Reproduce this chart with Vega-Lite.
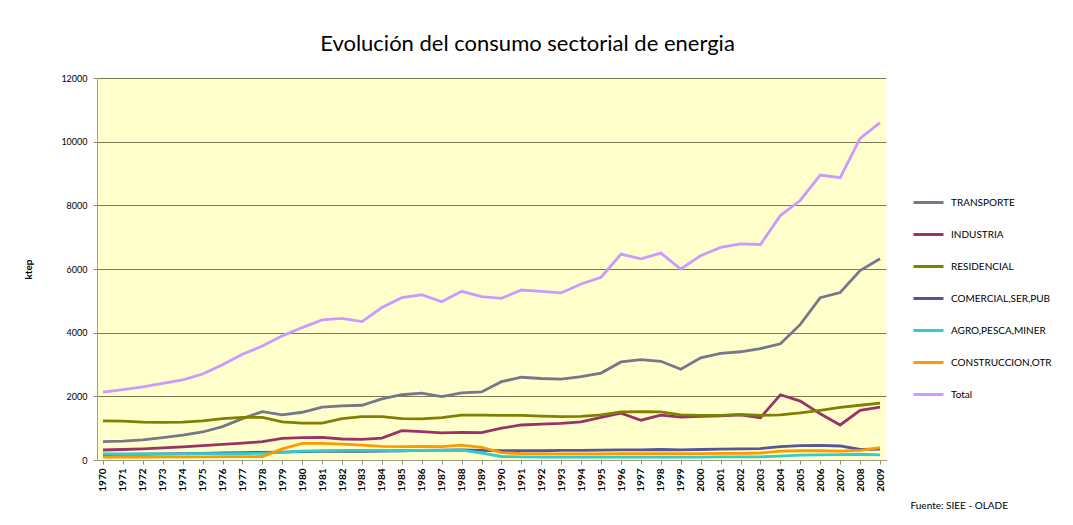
{
  "$schema": "https://vega.github.io/schema/vega-lite/v6.json",
  "autosize": "none",
  "width": 789,
  "height": 382,
  "padding": {"left": 97, "top": 78, "right": 187, "bottom": 65},
  "background": "white",
  "config": {
    "view": {"fill": "#ffffcc", "stroke": null},
    "font": "Lato"
  },
  "title": {
    "text": "Evolución del consumo sectorial de energia",
    "fontSize": 22,
    "font": "Lato",
    "fontWeight": "normal",
    "color": "#000000",
    "anchor": "middle",
    "dx": 36,
    "offset": 18
  },
  "datasets": {
    "d": [
      {"y":1970,"s":"TRANSPORTE","v":575},{"y":1971,"s":"TRANSPORTE","v":590},{"y":1972,"s":"TRANSPORTE","v":630},{"y":1973,"s":"TRANSPORTE","v":700},{"y":1974,"s":"TRANSPORTE","v":780},{"y":1975,"s":"TRANSPORTE","v":880},{"y":1976,"s":"TRANSPORTE","v":1050},{"y":1977,"s":"TRANSPORTE","v":1300},{"y":1978,"s":"TRANSPORTE","v":1520},{"y":1979,"s":"TRANSPORTE","v":1420},{"y":1980,"s":"TRANSPORTE","v":1500},{"y":1981,"s":"TRANSPORTE","v":1660},{"y":1982,"s":"TRANSPORTE","v":1700},{"y":1983,"s":"TRANSPORTE","v":1720},{"y":1984,"s":"TRANSPORTE","v":1920},{"y":1985,"s":"TRANSPORTE","v":2050},{"y":1986,"s":"TRANSPORTE","v":2100},{"y":1987,"s":"TRANSPORTE","v":1990},{"y":1988,"s":"TRANSPORTE","v":2110},{"y":1989,"s":"TRANSPORTE","v":2140},{"y":1990,"s":"TRANSPORTE","v":2460},{"y":1991,"s":"TRANSPORTE","v":2600},{"y":1992,"s":"TRANSPORTE","v":2560},{"y":1993,"s":"TRANSPORTE","v":2540},{"y":1994,"s":"TRANSPORTE","v":2620},{"y":1995,"s":"TRANSPORTE","v":2730},{"y":1996,"s":"TRANSPORTE","v":3080},{"y":1997,"s":"TRANSPORTE","v":3150},{"y":1998,"s":"TRANSPORTE","v":3100},{"y":1999,"s":"TRANSPORTE","v":2850},{"y":2000,"s":"TRANSPORTE","v":3210},{"y":2001,"s":"TRANSPORTE","v":3350},{"y":2002,"s":"TRANSPORTE","v":3400},{"y":2003,"s":"TRANSPORTE","v":3500},{"y":2004,"s":"TRANSPORTE","v":3650},{"y":2005,"s":"TRANSPORTE","v":4260},{"y":2006,"s":"TRANSPORTE","v":5100},{"y":2007,"s":"TRANSPORTE","v":5260},{"y":2008,"s":"TRANSPORTE","v":5950},{"y":2009,"s":"TRANSPORTE","v":6320},
      {"y":1970,"s":"INDUSTRIA","v":314},{"y":1971,"s":"INDUSTRIA","v":330},{"y":1972,"s":"INDUSTRIA","v":350},{"y":1973,"s":"INDUSTRIA","v":380},{"y":1974,"s":"INDUSTRIA","v":410},{"y":1975,"s":"INDUSTRIA","v":450},{"y":1976,"s":"INDUSTRIA","v":490},{"y":1977,"s":"INDUSTRIA","v":530},{"y":1978,"s":"INDUSTRIA","v":575},{"y":1979,"s":"INDUSTRIA","v":680},{"y":1980,"s":"INDUSTRIA","v":700},{"y":1981,"s":"INDUSTRIA","v":710},{"y":1982,"s":"INDUSTRIA","v":660},{"y":1983,"s":"INDUSTRIA","v":650},{"y":1984,"s":"INDUSTRIA","v":690},{"y":1985,"s":"INDUSTRIA","v":920},{"y":1986,"s":"INDUSTRIA","v":890},{"y":1987,"s":"INDUSTRIA","v":850},{"y":1988,"s":"INDUSTRIA","v":870},{"y":1989,"s":"INDUSTRIA","v":860},{"y":1990,"s":"INDUSTRIA","v":1000},{"y":1991,"s":"INDUSTRIA","v":1100},{"y":1992,"s":"INDUSTRIA","v":1130},{"y":1993,"s":"INDUSTRIA","v":1150},{"y":1994,"s":"INDUSTRIA","v":1200},{"y":1995,"s":"INDUSTRIA","v":1340},{"y":1996,"s":"INDUSTRIA","v":1470},{"y":1997,"s":"INDUSTRIA","v":1250},{"y":1998,"s":"INDUSTRIA","v":1410},{"y":1999,"s":"INDUSTRIA","v":1350},{"y":2000,"s":"INDUSTRIA","v":1370},{"y":2001,"s":"INDUSTRIA","v":1390},{"y":2002,"s":"INDUSTRIA","v":1420},{"y":2003,"s":"INDUSTRIA","v":1330},{"y":2004,"s":"INDUSTRIA","v":2050},{"y":2005,"s":"INDUSTRIA","v":1850},{"y":2006,"s":"INDUSTRIA","v":1450},{"y":2007,"s":"INDUSTRIA","v":1100},{"y":2008,"s":"INDUSTRIA","v":1560},{"y":2009,"s":"INDUSTRIA","v":1660},
      {"y":1970,"s":"RESIDENCIAL","v":1230},{"y":1971,"s":"RESIDENCIAL","v":1220},{"y":1972,"s":"RESIDENCIAL","v":1190},{"y":1973,"s":"RESIDENCIAL","v":1180},{"y":1974,"s":"RESIDENCIAL","v":1190},{"y":1975,"s":"RESIDENCIAL","v":1230},{"y":1976,"s":"RESIDENCIAL","v":1300},{"y":1977,"s":"RESIDENCIAL","v":1340},{"y":1978,"s":"RESIDENCIAL","v":1340},{"y":1979,"s":"RESIDENCIAL","v":1200},{"y":1980,"s":"RESIDENCIAL","v":1160},{"y":1981,"s":"RESIDENCIAL","v":1160},{"y":1982,"s":"RESIDENCIAL","v":1300},{"y":1983,"s":"RESIDENCIAL","v":1360},{"y":1984,"s":"RESIDENCIAL","v":1360},{"y":1985,"s":"RESIDENCIAL","v":1300},{"y":1986,"s":"RESIDENCIAL","v":1290},{"y":1987,"s":"RESIDENCIAL","v":1330},{"y":1988,"s":"RESIDENCIAL","v":1410},{"y":1989,"s":"RESIDENCIAL","v":1410},{"y":1990,"s":"RESIDENCIAL","v":1400},{"y":1991,"s":"RESIDENCIAL","v":1400},{"y":1992,"s":"RESIDENCIAL","v":1380},{"y":1993,"s":"RESIDENCIAL","v":1360},{"y":1994,"s":"RESIDENCIAL","v":1370},{"y":1995,"s":"RESIDENCIAL","v":1420},{"y":1996,"s":"RESIDENCIAL","v":1510},{"y":1997,"s":"RESIDENCIAL","v":1520},{"y":1998,"s":"RESIDENCIAL","v":1510},{"y":1999,"s":"RESIDENCIAL","v":1420},{"y":2000,"s":"RESIDENCIAL","v":1400},{"y":2001,"s":"RESIDENCIAL","v":1400},{"y":2002,"s":"RESIDENCIAL","v":1430},{"y":2003,"s":"RESIDENCIAL","v":1400},{"y":2004,"s":"RESIDENCIAL","v":1420},{"y":2005,"s":"RESIDENCIAL","v":1480},{"y":2006,"s":"RESIDENCIAL","v":1560},{"y":2007,"s":"RESIDENCIAL","v":1650},{"y":2008,"s":"RESIDENCIAL","v":1720},{"y":2009,"s":"RESIDENCIAL","v":1790},
      {"y":1970,"s":"COMERCIAL,SER,PUB","v":170},{"y":1971,"s":"COMERCIAL,SER,PUB","v":175},{"y":1972,"s":"COMERCIAL,SER,PUB","v":180},{"y":1973,"s":"COMERCIAL,SER,PUB","v":190},{"y":1974,"s":"COMERCIAL,SER,PUB","v":200},{"y":1975,"s":"COMERCIAL,SER,PUB","v":210},{"y":1976,"s":"COMERCIAL,SER,PUB","v":220},{"y":1977,"s":"COMERCIAL,SER,PUB","v":230},{"y":1978,"s":"COMERCIAL,SER,PUB","v":240},{"y":1979,"s":"COMERCIAL,SER,PUB","v":250},{"y":1980,"s":"COMERCIAL,SER,PUB","v":260},{"y":1981,"s":"COMERCIAL,SER,PUB","v":270},{"y":1982,"s":"COMERCIAL,SER,PUB","v":270},{"y":1983,"s":"COMERCIAL,SER,PUB","v":270},{"y":1984,"s":"COMERCIAL,SER,PUB","v":280},{"y":1985,"s":"COMERCIAL,SER,PUB","v":290},{"y":1986,"s":"COMERCIAL,SER,PUB","v":300},{"y":1987,"s":"COMERCIAL,SER,PUB","v":310},{"y":1988,"s":"COMERCIAL,SER,PUB","v":320},{"y":1989,"s":"COMERCIAL,SER,PUB","v":300},{"y":1990,"s":"COMERCIAL,SER,PUB","v":290},{"y":1991,"s":"COMERCIAL,SER,PUB","v":290},{"y":1992,"s":"COMERCIAL,SER,PUB","v":290},{"y":1993,"s":"COMERCIAL,SER,PUB","v":300},{"y":1994,"s":"COMERCIAL,SER,PUB","v":300},{"y":1995,"s":"COMERCIAL,SER,PUB","v":310},{"y":1996,"s":"COMERCIAL,SER,PUB","v":320},{"y":1997,"s":"COMERCIAL,SER,PUB","v":320},{"y":1998,"s":"COMERCIAL,SER,PUB","v":330},{"y":1999,"s":"COMERCIAL,SER,PUB","v":320},{"y":2000,"s":"COMERCIAL,SER,PUB","v":330},{"y":2001,"s":"COMERCIAL,SER,PUB","v":340},{"y":2002,"s":"COMERCIAL,SER,PUB","v":350},{"y":2003,"s":"COMERCIAL,SER,PUB","v":360},{"y":2004,"s":"COMERCIAL,SER,PUB","v":420},{"y":2005,"s":"COMERCIAL,SER,PUB","v":450},{"y":2006,"s":"COMERCIAL,SER,PUB","v":460},{"y":2007,"s":"COMERCIAL,SER,PUB","v":440},{"y":2008,"s":"COMERCIAL,SER,PUB","v":330},{"y":2009,"s":"COMERCIAL,SER,PUB","v":340},
      {"y":1970,"s":"AGRO,PESCA,MINER","v":190},{"y":1971,"s":"AGRO,PESCA,MINER","v":190},{"y":1972,"s":"AGRO,PESCA,MINER","v":190},{"y":1973,"s":"AGRO,PESCA,MINER","v":195},{"y":1974,"s":"AGRO,PESCA,MINER","v":195},{"y":1975,"s":"AGRO,PESCA,MINER","v":200},{"y":1976,"s":"AGRO,PESCA,MINER","v":200},{"y":1977,"s":"AGRO,PESCA,MINER","v":200},{"y":1978,"s":"AGRO,PESCA,MINER","v":210},{"y":1979,"s":"AGRO,PESCA,MINER","v":240},{"y":1980,"s":"AGRO,PESCA,MINER","v":280},{"y":1981,"s":"AGRO,PESCA,MINER","v":290},{"y":1982,"s":"AGRO,PESCA,MINER","v":300},{"y":1983,"s":"AGRO,PESCA,MINER","v":300},{"y":1984,"s":"AGRO,PESCA,MINER","v":300},{"y":1985,"s":"AGRO,PESCA,MINER","v":290},{"y":1986,"s":"AGRO,PESCA,MINER","v":300},{"y":1987,"s":"AGRO,PESCA,MINER","v":300},{"y":1988,"s":"AGRO,PESCA,MINER","v":310},{"y":1989,"s":"AGRO,PESCA,MINER","v":220},{"y":1990,"s":"AGRO,PESCA,MINER","v":110},{"y":1991,"s":"AGRO,PESCA,MINER","v":100},{"y":1992,"s":"AGRO,PESCA,MINER","v":90},{"y":1993,"s":"AGRO,PESCA,MINER","v":90},{"y":1994,"s":"AGRO,PESCA,MINER","v":90},{"y":1995,"s":"AGRO,PESCA,MINER","v":90},{"y":1996,"s":"AGRO,PESCA,MINER","v":90},{"y":1997,"s":"AGRO,PESCA,MINER","v":90},{"y":1998,"s":"AGRO,PESCA,MINER","v":90},{"y":1999,"s":"AGRO,PESCA,MINER","v":90},{"y":2000,"s":"AGRO,PESCA,MINER","v":90},{"y":2001,"s":"AGRO,PESCA,MINER","v":100},{"y":2002,"s":"AGRO,PESCA,MINER","v":100},{"y":2003,"s":"AGRO,PESCA,MINER","v":100},{"y":2004,"s":"AGRO,PESCA,MINER","v":120},{"y":2005,"s":"AGRO,PESCA,MINER","v":150},{"y":2006,"s":"AGRO,PESCA,MINER","v":160},{"y":2007,"s":"AGRO,PESCA,MINER","v":170},{"y":2008,"s":"AGRO,PESCA,MINER","v":180},{"y":2009,"s":"AGRO,PESCA,MINER","v":160},
      {"y":1970,"s":"CONSTRUCCION,OTR","v":90},{"y":1971,"s":"CONSTRUCCION,OTR","v":95},{"y":1972,"s":"CONSTRUCCION,OTR","v":95},{"y":1973,"s":"CONSTRUCCION,OTR","v":100},{"y":1974,"s":"CONSTRUCCION,OTR","v":100},{"y":1975,"s":"CONSTRUCCION,OTR","v":100},{"y":1976,"s":"CONSTRUCCION,OTR","v":105},{"y":1977,"s":"CONSTRUCCION,OTR","v":105},{"y":1978,"s":"CONSTRUCCION,OTR","v":110},{"y":1979,"s":"CONSTRUCCION,OTR","v":350},{"y":1980,"s":"CONSTRUCCION,OTR","v":520},{"y":1981,"s":"CONSTRUCCION,OTR","v":520},{"y":1982,"s":"CONSTRUCCION,OTR","v":500},{"y":1983,"s":"CONSTRUCCION,OTR","v":470},{"y":1984,"s":"CONSTRUCCION,OTR","v":430},{"y":1985,"s":"CONSTRUCCION,OTR","v":420},{"y":1986,"s":"CONSTRUCCION,OTR","v":430},{"y":1987,"s":"CONSTRUCCION,OTR","v":420},{"y":1988,"s":"CONSTRUCCION,OTR","v":470},{"y":1989,"s":"CONSTRUCCION,OTR","v":400},{"y":1990,"s":"CONSTRUCCION,OTR","v":230},{"y":1991,"s":"CONSTRUCCION,OTR","v":200},{"y":1992,"s":"CONSTRUCCION,OTR","v":190},{"y":1993,"s":"CONSTRUCCION,OTR","v":190},{"y":1994,"s":"CONSTRUCCION,OTR","v":190},{"y":1995,"s":"CONSTRUCCION,OTR","v":190},{"y":1996,"s":"CONSTRUCCION,OTR","v":200},{"y":1997,"s":"CONSTRUCCION,OTR","v":200},{"y":1998,"s":"CONSTRUCCION,OTR","v":200},{"y":1999,"s":"CONSTRUCCION,OTR","v":200},{"y":2000,"s":"CONSTRUCCION,OTR","v":200},{"y":2001,"s":"CONSTRUCCION,OTR","v":210},{"y":2002,"s":"CONSTRUCCION,OTR","v":210},{"y":2003,"s":"CONSTRUCCION,OTR","v":220},{"y":2004,"s":"CONSTRUCCION,OTR","v":280},{"y":2005,"s":"CONSTRUCCION,OTR","v":290},{"y":2006,"s":"CONSTRUCCION,OTR","v":290},{"y":2007,"s":"CONSTRUCCION,OTR","v":280},{"y":2008,"s":"CONSTRUCCION,OTR","v":300},{"y":2009,"s":"CONSTRUCCION,OTR","v":390},
      {"y":1970,"s":"Total","v":2130},{"y":1971,"s":"Total","v":2210},{"y":1972,"s":"Total","v":2300},{"y":1973,"s":"Total","v":2410},{"y":1974,"s":"Total","v":2520},{"y":1975,"s":"Total","v":2700},{"y":1976,"s":"Total","v":2990},{"y":1977,"s":"Total","v":3320},{"y":1978,"s":"Total","v":3580},{"y":1979,"s":"Total","v":3900},{"y":1980,"s":"Total","v":4160},{"y":1981,"s":"Total","v":4400},{"y":1982,"s":"Total","v":4450},{"y":1983,"s":"Total","v":4350},{"y":1984,"s":"Total","v":4790},{"y":1985,"s":"Total","v":5100},{"y":1986,"s":"Total","v":5190},{"y":1987,"s":"Total","v":4970},{"y":1988,"s":"Total","v":5300},{"y":1989,"s":"Total","v":5130},{"y":1990,"s":"Total","v":5080},{"y":1991,"s":"Total","v":5340},{"y":1992,"s":"Total","v":5300},{"y":1993,"s":"Total","v":5250},{"y":1994,"s":"Total","v":5530},{"y":1995,"s":"Total","v":5740},{"y":1996,"s":"Total","v":6470},{"y":1997,"s":"Total","v":6320},{"y":1998,"s":"Total","v":6500},{"y":1999,"s":"Total","v":6000},{"y":2000,"s":"Total","v":6420},{"y":2001,"s":"Total","v":6680},{"y":2002,"s":"Total","v":6790},{"y":2003,"s":"Total","v":6770},{"y":2004,"s":"Total","v":7680},{"y":2005,"s":"Total","v":8160},{"y":2006,"s":"Total","v":8950},{"y":2007,"s":"Total","v":8870},{"y":2008,"s":"Total","v":10100},{"y":2009,"s":"Total","v":10600}
    ]
  },
  "data": {"name": "d"},
  "mark": {"type": "line", "strokeWidth": 2.8, "interpolate": "linear"},
  "encoding": {
    "x": {
      "field": "y",
      "type": "ordinal",
      "scale": {"type": "point", "padding": 0.3},
      "axis": {
        "title": "Fuente: SIEE - OLADE",
        "titleFont": "Lato",
        "titleFontSize": 10,
        "titleFontWeight": "normal",
        "titleColor": "#000000",
        "titleAlign": "left",
        "titleAnchor": "start",
        "titleX": 813,
        "titleY": 40,
        "labelAngle": -90,
        "labelFontSize": 10,
        "labelFontWeight": "bold",
        "labelColor": "#000000",
        "labelPadding": 4,
        "tickColor": "#909070",
        "tickSize": 4,
        "domainColor": "#a0a080",
        "grid": false
      }
    },
    "y": {
      "field": "v",
      "type": "quantitative",
      "scale": {"domain": [0, 12000], "nice": false},
      "axis": {
        "title": "ktep",
        "titleFont": "Lato",
        "titleFontSize": 10,
        "titleFontWeight": "bold",
        "titleColor": "#000000",
        "titleX": -64,
        "titleY": 191,
        "titleAngle": -90,
        "titleAlign": "center",
        "values": [0, 2000, 4000, 6000, 8000, 10000, 12000],
        "format": "d",
        "labelFontSize": 9,
        "labelColor": "#000000",
        "labelPadding": 6,
        "tickColor": "#909070",
        "tickSize": 4,
        "domainColor": "#a0a080",
        "grid": true,
        "gridColor": "#7a7a55",
        "gridWidth": 1
      }
    },
    "color": {
      "field": "s",
      "type": "nominal",
      "sort": ["TRANSPORTE", "INDUSTRIA", "RESIDENCIAL", "COMERCIAL,SER,PUB", "AGRO,PESCA,MINER", "CONSTRUCCION,OTR", "Total"],
      "scale": {
        "domain": ["TRANSPORTE", "INDUSTRIA", "RESIDENCIAL", "COMERCIAL,SER,PUB", "AGRO,PESCA,MINER", "CONSTRUCCION,OTR", "Total"],
        "range": ["#77778a", "#993366", "#808000", "#55559a", "#33cccc", "#ff9900", "#cc99ff"]
      },
      "legend": {
        "title": null,
        "orient": "none",
        "legendX": 815,
        "legendY": 108,
        "symbolType": "stroke",
        "symbolSize": 900,
        "symbolStrokeWidth": 3,
        "rowPadding": 9,
        "labelFont": "Lato",
        "labelFontSize": 10,
        "labelColor": "#000000",
        "labelOffset": 6
      }
    }
  }
}
